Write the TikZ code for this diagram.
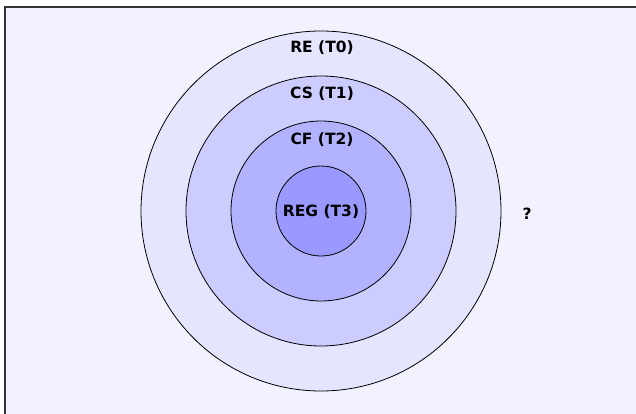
\documentclass[tikz,border=0pt]{standalone}
\usepackage{fontspec}
\setmainfont{DejaVu Sans}
\begin{document}
\begin{tikzpicture}[x=1pt,y=-1pt,
  ring/.style={draw=black,line width=0.8pt},
  lab/.style={font=\bfseries\fontsize{15.5}{17}\selectfont,inner sep=0pt}]
\useasboundingbox (0,0) rectangle (636,414);
\clip (0,0) rectangle (636,414);
\fill[white] (0,0) rectangle (636,414);
\draw[fill=blue!5,draw=black!80,line width=1.2pt] (5,7) rectangle (660,440);
\draw[ring,fill=blue!10] (321,211) circle[radius=180];
\draw[ring,fill=blue!20] (321,211) circle[radius=135];
\draw[ring,fill=blue!30] (321,211) circle[radius=90];
\draw[ring,fill=blue!40] (321,211) circle[radius=45];
\node[lab] (t0) at (322,48) {RE (T0)};
\node[lab] (t1) at (322,94) {CS (T1)};
\node[lab] (t2) at (322,140) {CF (T2)};
\node[lab] (t3) at (321,212) {REG (T3)};
\node[lab] (q) at (527,214) {?};
\end{tikzpicture}
\end{document}
